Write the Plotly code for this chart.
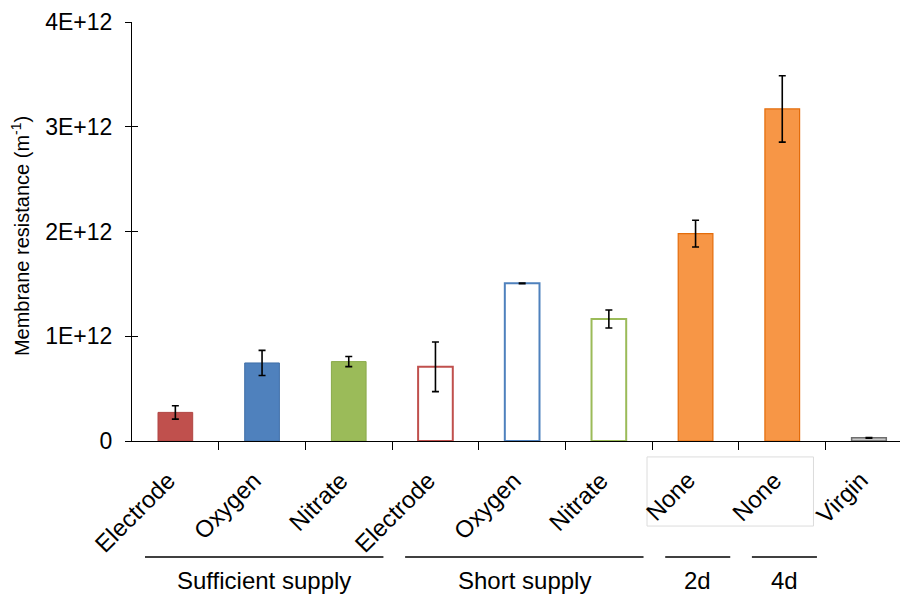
import plotly.graph_objects as go

# Membrane resistance by electron-acceptor condition
categories = ["Electrode", "Oxygen", "Nitrate",
              "Electrode", "Oxygen", "Nitrate",
              "None", "None", "Virgin"]
resistance = [0.273e12, 0.745e12, 0.758e12,
              0.708e12, 1.505e12, 1.165e12,
              1.980e12, 3.170e12, 0.030e12]
std_dev = [0.064e12, 0.120e12, 0.048e12,
           0.237e12, 0.004e12, 0.086e12,
           0.128e12, 0.317e12, 0.004e12]

# Group brackets under the axis: (first index, last index, label)
groups = [(0, 2, "Sufficient supply"), (3, 5, "Short supply"),
          (6, 6, "2d"), (7, 7, "4d")]

y_ticks = [0, 1e12, 2e12, 3e12, 4e12]
y_tick_text = ["0", "1E+12", "2E+12", "3E+12", "4E+12"]

# Bar styling
fill_colors = ["#C0504D", "#4F81BD", "#9BBB59",
               "white", "white", "white",
               "#F79646", "#F79646", "#C8C8C8"]
edge_colors = ["#B04542", "#3F6FA8", "#8AAA4B",
               "#C0504D", "#4F81BD", "#9BBB59",
               "#E46C0A", "#E46C0A", "#6E6E6E"]
edge_widths = [1, 1, 1, 2, 2, 2, 1.2, 1.2, 1.5]

FONT = "Arial, Liberation Sans, sans-serif"
x_pos = list(range(len(categories)))

fig = go.Figure()
fig.add_trace(go.Bar(
    x=x_pos, y=resistance, width=0.4,
    marker=dict(color=fill_colors,
                line=dict(color=edge_colors, width=edge_widths)),
    error_y=dict(type="data", array=std_dev, visible=True,
                 color="black", thickness=1.6, width=3.5),
    showlegend=False, hoverinfo="skip",
))
# companion axis carrying the inward half of the y ticks
fig.add_trace(go.Scatter(x=[0], y=[0], yaxis="y2", mode="markers",
                         marker=dict(opacity=0), showlegend=False,
                         hoverinfo="skip"))

annotations = []
# rotated category labels
for i, name in enumerate(categories):
    annotations.append(dict(
        x=i, y=-0.055, xref="x", yref="paper", xshift=7,
        text=name, textangle=-45, showarrow=False,
        xanchor="right", yanchor="top",
        font=dict(family=FONT, size=24, color="black"),
    ))

shapes = []
for first, last, label in groups:
    x0, x1 = first - 0.35, last + 0.4
    shapes.append(dict(type="line", xref="x", yref="paper",
                       x0=x0, x1=x1, y0=-0.277, y1=-0.277,
                       line=dict(color="black", width=1.5)))
    annotations.append(dict(
        x=(x0 + x1) / 2, y=-0.332, xref="x", yref="paper",
        text=label, showarrow=False, xanchor="center", yanchor="middle",
        font=dict(family=FONT, size=24, color="black"),
    ))

# light frame around the two "None" labels
shapes.append(dict(type="rect", xref="x", yref="paper",
                   x0=6 - 0.56, x1=7 + 0.36, y0=-0.203, y1=-0.038,
                   line=dict(color="#DCDCDC", width=1), layer="below"))

# y axis title
annotations.append(dict(
    x=0, y=0.489, xref="paper", yref="paper", xshift=-112,
    text="Membrane resistance (m<sup>-1</sup>)", textangle=-90,
    showarrow=False, xanchor="center", yanchor="middle",
    font=dict(family=FONT, size=20, color="black"),
))

fig.update_layout(
    width=900, height=595,
    margin=dict(l=132, r=0, t=22, b=154),
    paper_bgcolor="white", plot_bgcolor="white",
    xaxis=dict(range=[-0.5, 8.358], showgrid=False, zeroline=False,
               showline=True, linecolor="black", linewidth=1.2,
               tickmode="array", tickvals=[i + 0.5 for i in x_pos],
               ticks="outside", ticklen=8, tickcolor="black",
               showticklabels=False),
    yaxis=dict(range=[0, 4e12], showgrid=False, zeroline=False,
               showline=True, linecolor="black", linewidth=1.2,
               tickmode="array", tickvals=y_ticks, ticktext=y_tick_text,
               ticks="outside", ticklen=6, tickcolor="black",
               ticklabelstandoff=8,
               tickfont=dict(family=FONT, size=23, color="black")),
    yaxis2=dict(range=[0, 4e12], overlaying="y", side="left",
                showgrid=False, zeroline=False, showline=False,
                tickmode="array", tickvals=y_ticks,
                ticks="inside", ticklen=6, tickcolor="black",
                showticklabels=False),
    annotations=annotations,
    shapes=shapes,
)

fig.write_html("out.html")
